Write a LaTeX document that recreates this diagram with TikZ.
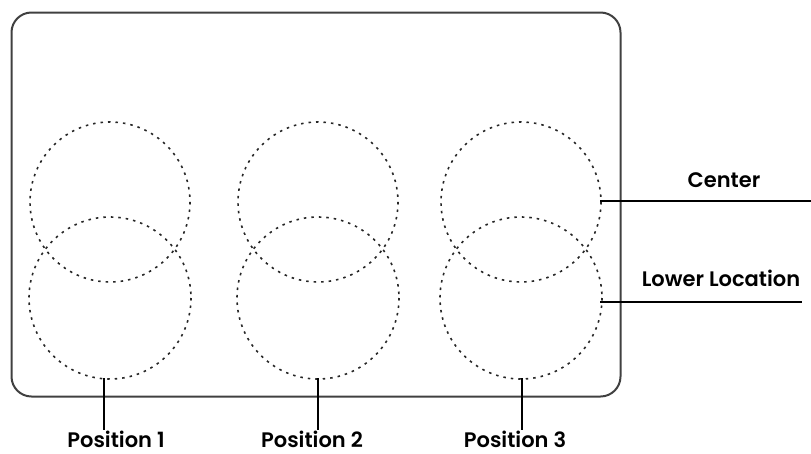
\documentclass[tikz,border=0pt]{standalone}
\usepackage{fontspec}
\setmainfont{Poppins}[BoldFont={* SemiBold}]
\begin{document}
\begin{tikzpicture}[x=1pt,y=-1pt,
  frame/.style={draw=black!75,line width=2pt,rounded corners=20pt},
  zone/.style={draw=black!85,line width=1.6pt,dash pattern=on 2.5pt off 5pt},
  lead/.style={draw=black,line width=2pt},
  lbl/.style={font=\bfseries\fontsize{21}{24}\selectfont,inner sep=0pt}]
\useasboundingbox (0,0) rectangle (811,453);
\draw[frame] (11.5,12.5) rectangle (620.5,396.5);
\foreach \i/\x in {1/110,2/318,3/521}{
  \draw[zone] (\x,202) circle [radius=80];
  \draw[zone] (\x,298) circle [radius=81];
}
\coordinate (c1) at (104,378); \coordinate (c2) at (318,378); \coordinate (c3) at (522,378);
\node[lbl] (p1) at (116,439) {Position 1};
\node[lbl] (p2) at (312,439) {Position 2};
\node[lbl] (p3) at (515,439) {Position 3};
\draw[lead] (c1) -- (c1 |- p1.north);
\draw[lead] (c2) -- (c2 |- p2.north);
\draw[lead] (c3) -- (c3 |- p3.north);
\coordinate (cc) at (600,200.5); \coordinate (ce) at (811,200.5);
\coordinate (lc) at (600,301.5); \coordinate (le) at (802,301.5);
\draw[lead] (cc) -- (ce);
\draw[lead] (lc) -- (le);
\node[lbl] (center) at (724,180) {Center};
\node[lbl] (lower) at (721,278) {Lower Location};
\end{tikzpicture}
\end{document}
